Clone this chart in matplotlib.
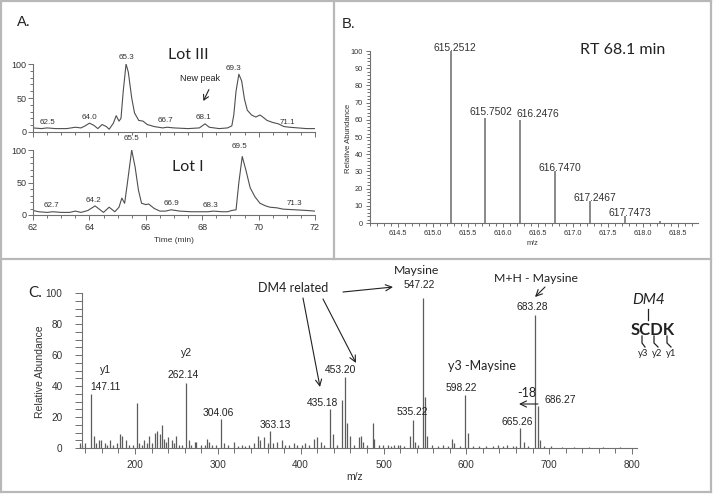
import matplotlib
matplotlib.use("Agg")
import matplotlib.pyplot as plt
from matplotlib.ticker import MultipleLocator, FormatStrFormatter
from matplotlib.lines import Line2D

plt.rcParams["font.family"] = ["Liberation Sans", "DejaVu Sans"]
CAL = ["Lato", "DejaVu Sans"]
W, H = 713, 495
TRACE = "#4f4f4f"
AXC = "#707070"
TXT = "#222222"
FRAME = "#b8b8b8"

# ---- A. extracted ion chromatograms (time, relative intensity) ----
lot3_time = [62.0, 62.3, 62.5, 62.8, 63.2, 63.5, 63.7, 63.85, 64.0, 64.15, 64.3, 64.45,
             64.6, 64.7, 64.85, 64.95, 65.05, 65.12, 65.2, 65.3, 65.38, 65.5, 65.6, 65.75,
             65.9, 66.05, 66.3, 66.6, 66.75, 67.0, 67.5, 67.9, 68.1, 68.25, 68.6, 68.9,
             69.05, 69.12, 69.2, 69.3, 69.4, 69.5, 69.6, 69.75, 69.9, 70.05, 70.15, 70.3,
             70.5, 70.7, 70.9, 71.1, 71.4, 71.7, 72.0]
lot3_int = [6, 5, 6, 5, 5, 7, 6, 9, 13, 10, 5, 11,
            8, 4, 13, 24, 16, 20, 60, 100, 88, 50, 28, 17,
            16, 11, 8, 6, 7, 6, 5, 6, 12, 7, 5, 6,
            9, 25, 60, 85, 75, 48, 32, 25, 22, 25, 22, 17,
            14, 12, 8, 7, 6, 5, 5]
lot3_peaks = [62.5, 64.0, 65.3, 66.7, 68.1, 69.3, 71.1]

lot1_time = [62.0, 62.2, 62.5, 62.7, 63.0, 63.3, 63.5, 63.7, 63.95, 64.2, 64.35, 64.5,
             64.7, 64.9, 65.05, 65.15, 65.25, 65.35, 65.5, 65.62, 65.74, 65.85, 66.0, 66.1,
             66.3, 66.5, 66.7, 66.9, 67.2, 67.6, 67.9, 68.2, 68.4, 68.7, 68.9, 69.05,
             69.2, 69.3, 69.42, 69.55, 69.7, 69.87, 70.05, 70.25, 70.4, 70.65, 70.87, 71.3,
             71.7, 72.0]
lot1_int = [7, 5, 4, 5, 4, 4, 6, 4, 7, 14, 9, 4,
            12, 5, 12, 26, 18, 50, 100, 74, 38, 18, 16, 17,
            10, 6, 6, 8, 6, 5, 5, 5, 6, 5, 5, 7,
            8, 50, 90, 69, 42, 28, 18, 14, 12, 11, 9, 8,
            7, 6]
lot1_peaks = [62.7, 64.2, 65.5, 66.9, 68.3, 69.5, 71.3]

# ---- B. isotope cluster at RT 68.1 min ----
b_mz = [615.2512, 615.7502, 616.2476, 616.7470, 617.2467, 617.7473, 618.25]
b_int = [100, 61, 60, 30, 13, 4, 1]
b_labeled = [615.2512, 615.7502, 616.2476, 616.7470, 617.2467, 617.7473]

# ---- C. MS/MS spectrum ----
c_mz = [133.5, 136, 139.5, 147.11, 150.5, 153, 156, 159.5, 163.5, 166, 169.5, 174, 178,
        182, 184.5, 189, 193, 197, 202.1, 205, 208, 211, 214, 217, 220, 224.5, 227, 230,
        232.6, 235.5, 238, 240, 244.8, 247, 249.6, 253, 257, 262.14, 265, 268, 272, 274,
        280, 284, 287, 289, 293, 298, 304.06, 307, 312, 319.5, 324, 329, 333, 338, 344,
        348, 351, 356, 360, 363.13, 367, 372, 377, 381, 386, 392, 396, 401, 405, 410, 416,
        420, 424.5, 428, 435.18, 439.5, 444, 449.5, 453.20, 456.5, 459, 464, 470, 473, 475,
        480, 487, 489, 494, 499, 505, 509, 513, 517.5, 520, 525, 531.6, 535.22, 538, 542,
        547.22, 549.5, 552.6, 558, 566, 572, 578, 583, 585, 592, 598.22, 601.5, 608, 615,
        624, 632, 638.7, 644, 648.8, 656, 660, 665.26, 669, 675, 683.28, 686.27, 689, 694,
        702, 715, 730, 748, 765, 785]
c_int = [3, 2, 3, 35, 8, 3, 5, 5, 3, 2, 5, 2, 3,
         9, 8, 5, 2, 2, 29, 3, 2, 5, 3, 8, 3, 10, 11, 9,
         15, 6, 4, 7, 5, 3, 8, 2, 2, 42, 5, 2, 4, 4,
         2, 2, 6, 4, 2, 2, 19, 3, 2, 4, 1.5, 2, 1.5, 2, 3,
         8, 5, 7, 3, 11, 3, 4, 5, 2, 2, 3, 2, 2, 3, 2, 6,
         7, 4, 2, 25, 9, 2, 31, 46, 16, 8, 2, 7, 8, 4,
         2, 16, 6, 2, 2, 2, 1.5, 2, 2, 2, 1.5, 8, 18, 4, 2,
         97, 33, 8, 2, 1.5, 2, 1.5, 6, 3, 1.5, 34, 10, 1.5, 1,
         1.5, 1, 2, 1, 2, 1, 1.5, 13, 4, 1, 86, 27, 5, 1,
         1, 0.8, 0.8, 0.8, 0.8, 0.8]
c_labeled = [147.11, 262.14, 304.06, 363.13, 435.18, 453.20, 535.22, 547.22, 598.22,
             665.26, 683.28, 686.27]

# ---- layout (pixels of the 713x495 picture) ----
a3_label_xy = [(62.51, 14), (63.99, 22), (65.3, 109), (66.68, 17), (68.06, 22), (69.1, 94), (71.02, 14)]
a1_label_xy = [(62.67, 14), (64.13, 23), (65.5, 118), (66.92, 18), (68.31, 14), (69.34, 106), (71.26, 18)]
b_shift = {615.2512: (4, 0), 615.7502: (6, 3), 616.2476: (18, 3),
           616.7470: (5, 0), 617.2467: (5, 0), 617.7473: (5, 0)}
c_shift = {147.11: (14, 7), 262.14: (-3.5, 8), 304.06: (-3, 5.5), 363.13: (5, 6),
           435.18: (-7, 6), 453.20: (-4, 6.5), 535.22: (0, 8), 547.22: (-3.5, 12.5),
           598.22: (-4, 7), 665.26: (-3, 6), 683.28: (-3, 7.5), 686.27: (22, 6)}


def rect(x0, x1, ytop, ybot):
    return [x0 / W, 1 - ybot / H, (x1 - x0) / W, (ybot - ytop) / H]


def fig_xy(x, y):
    return x / W, 1 - y / H


def style(ax, size, major, minor, pad):
    for s in ["top", "right"]:
        ax.spines[s].set_visible(False)
    for s in ["left", "bottom"]:
        ax.spines[s].set_color(AXC)
        ax.spines[s].set_linewidth(0.8)
    ax.tick_params(which="both", direction="out", color=AXC, labelcolor="#333333",
                   labelsize=size, width=0.7, pad=pad)
    ax.tick_params(which="major", length=major)
    ax.tick_params(which="minor", length=minor)
    ax.patch.set_alpha(0)


fig = plt.figure(figsize=(W / 100, H / 100), dpi=100)

# frame of the three panels
for (x0, y0, x1, y1) in [(1, 1, 711, 1), (1, 492, 711, 492), (1, 1, 1, 492), (711, 1, 711, 492),
                         (1, 259, 711, 259), (334, 1, 334, 259)]:
    fig.add_artist(Line2D([x0 / W, x1 / W], [1 - y0 / H, 1 - y1 / H],
                          transform=fig.transFigure, color=FRAME, lw=1.6))

# ---------------- A ----------------
axA1 = fig.add_axes(rect(33, 315, 64, 132))
axA2 = fig.add_axes(rect(33, 315, 150, 215))
for ax, t, y, peaks, lxy in [(axA1, lot3_time, lot3_int, lot3_peaks, a3_label_xy),
                             (axA2, lot1_time, lot1_int, lot1_peaks, a1_label_xy)]:
    ax.plot(t, y, color=TRACE, lw=0.8)
    ax.set_xlim(62, 72)
    ax.set_ylim(0, 100)
    ax.xaxis.set_major_locator(MultipleLocator(2))
    ax.xaxis.set_minor_locator(MultipleLocator(0.5))
    ax.yaxis.set_major_locator(MultipleLocator(50))
    ax.yaxis.set_minor_locator(MultipleLocator(10))
    style(ax, 6.5, 3.5, 2, 1.2)
    for p, (x, yy) in zip(peaks, lxy):
        ax.text(x, yy, f"{p:.1f}", fontsize=5.8, color="#333333", ha="center", va="center",
                clip_on=False)
axA1.tick_params(labelbottom=False)
axA2.tick_params(axis="x", pad=2.5)
axA1.text(67.5, 113, "Lot III", family=CAL, fontsize=11.5, color=TXT, ha="center", va="center")
axA2.text(67.5, 74, "Lot I", family=CAL, fontsize=11.5, color=TXT, ha="center", va="center")
axA1.text(67.92, 78, "New peak", fontsize=6.5, color=TXT, ha="center", va="center")
axA1.annotate("", xy=(68.0, 42), xytext=(68.28, 66),
              arrowprops=dict(arrowstyle="->,head_length=0.35,head_width=0.2", lw=0.8, color=TXT))
fig.text(*fig_xy(174, 240), "Time (min)", fontsize=6, color="#333333", ha="center", va="center")
fig.text(*fig_xy(24, 22), "A.", fontsize=10.5, color=TXT, ha="center", va="center")

# ---------------- B ----------------
axB = fig.add_axes(rect(370, 698, 51, 223))
axB.vlines(b_mz, 0, b_int, color="#6a6a6a", lw=1.1, clip_on=False)
axB.set_xlim(614.1, 618.79)
axB.set_ylim(0, 100)
axB.xaxis.set_major_locator(MultipleLocator(0.5))
axB.xaxis.set_minor_locator(MultipleLocator(0.1))
axB.xaxis.set_major_formatter(FormatStrFormatter("%.1f"))
axB.yaxis.set_major_locator(MultipleLocator(10))
axB.yaxis.set_minor_locator(MultipleLocator(2))
style(axB, 5.3, 3, 2, 2)
for mz in b_labeled:
    dx, dy = b_shift[mz]
    axB.annotate(f"{mz:.4f}", xy=(mz, b_int[b_mz.index(mz)]), xytext=(dx * 0.72, dy * 0.72),
                 textcoords="offset points", ha="center", va="baseline", fontsize=7.4,
                 color="#333333", annotation_clip=False)
fig.text(*fig_xy(349, 138), "Relative Abundance", fontsize=5.6, color="#333333",
         rotation=90, ha="center", va="center")
fig.text(*fig_xy(532, 243), "m/z", fontsize=5.3, color="#333333", ha="center", va="center")
fig.text(*fig_xy(623, 50), "RT 68.1 min", family=CAL, fontsize=11.5, color=TXT,
         ha="center", va="center")
fig.text(*fig_xy(349, 24), "B.", fontsize=10.5, color=TXT, ha="center", va="center")

# ---------------- C ----------------
axC = fig.add_axes(rect(82, 637, 293, 448))
axC.vlines(c_mz, 0, c_int, color="#5c5c5c", lw=0.9, clip_on=False)
axC.set_xlim(136, 806)
axC.set_ylim(0, 100)
axC.xaxis.set_major_locator(MultipleLocator(100))
axC.xaxis.set_minor_locator(MultipleLocator(20))
axC.yaxis.set_major_locator(MultipleLocator(20))
axC.yaxis.set_minor_locator(MultipleLocator(5))
style(axC, 7.2, 4.5, 3.5, 4)
axC.tick_params(axis="y", which="major", length=5, pad=9)
axC.tick_params(axis="y", which="minor", length=5)
for mz in c_labeled:
    dx, dy = c_shift[mz]
    peak = c_int[c_mz.index(mz)]
    axC.annotate(f"{mz:.2f}", xy=(mz, peak), xytext=(dx * 0.72, dy * 0.72),
                 textcoords="offset points", ha="center", va="center", fontsize=7.4,
                 color=TXT, annotation_clip=False)
fig.text(*fig_xy(40, 372), "Relative Abundance", fontsize=7.5, color="#333333",
         rotation=90, ha="center", va="center")
fig.text(*fig_xy(355, 477), "m/z", fontsize=7.5, color="#333333", ha="center", va="center")
fig.text(*fig_xy(35, 293), "C.", family=CAL, fontsize=11, color=TXT, ha="center", va="center")

free_text = [((106, 370), "y1", ["Liberation Sans"], 7.5, "normal", "normal"),
             ((187, 353), "y2", ["Liberation Sans"], 7.5, "normal", "normal"),
             ((293, 288), "DM4 related", CAL, 9, "normal", "normal"),
             ((417, 270), "Maysine", CAL, 8.8, "normal", "normal"),
             ((536, 278), "M+H - Maysine", CAL, 8.8, "normal", "normal"),
             ((482, 366), "y3 -Maysine", CAL, 9, "normal", "normal"),
             ((527, 393), "-18", CAL, 9, "normal", "normal"),
             ((649, 300), "DM4", CAL, 11, "normal", "italic"),
             ((653, 330), "SCDK", CAL, 12, "bold", "normal"),
             ((643, 353), "y3", CAL, 6.8, "normal", "normal"),
             ((657, 353), "y2", CAL, 6.8, "normal", "normal"),
             ((671, 353), "y1", CAL, 6.8, "normal", "normal")]
for (x, y), s, fam, fs, wt, st in free_text:
    fig.text(*fig_xy(x, y), s, family=fam, fontsize=fs, weight=wt, style=st, color=TXT,
             ha="center", va="center")

arrows = [((343, 292), (393, 287)), ((303, 298), (320, 387)), ((323, 299), (356, 363)),
          ((545, 287), (535, 297)), ((538, 404), (519, 404))]
for (xa, ya), (xb, yb) in arrows:
    axC.annotate("", xy=(xb, H - yb), xycoords="figure pixels",
                 xytext=(xa, H - ya), textcoords="figure pixels",
                 arrowprops=dict(arrowstyle="->,head_length=0.45,head_width=0.22",
                                 lw=0.8, color=TXT, shrinkA=0, shrinkB=0))

# bonds of the DM4 / SCDK sketch
sketch = [[(648, 309), (648, 320)],
          [(642, 336), (642, 343), (645, 347)],
          [(654, 336), (654, 343), (658, 347)],
          [(667, 336), (667, 343), (671, 347)]]
for pts in sketch:
    xs = [p[0] / W for p in pts]
    ys = [1 - p[1] / H for p in pts]
    fig.add_artist(Line2D(xs, ys, transform=fig.transFigure, color=TXT, lw=0.9))

fig.savefig("out.png", dpi=100)
